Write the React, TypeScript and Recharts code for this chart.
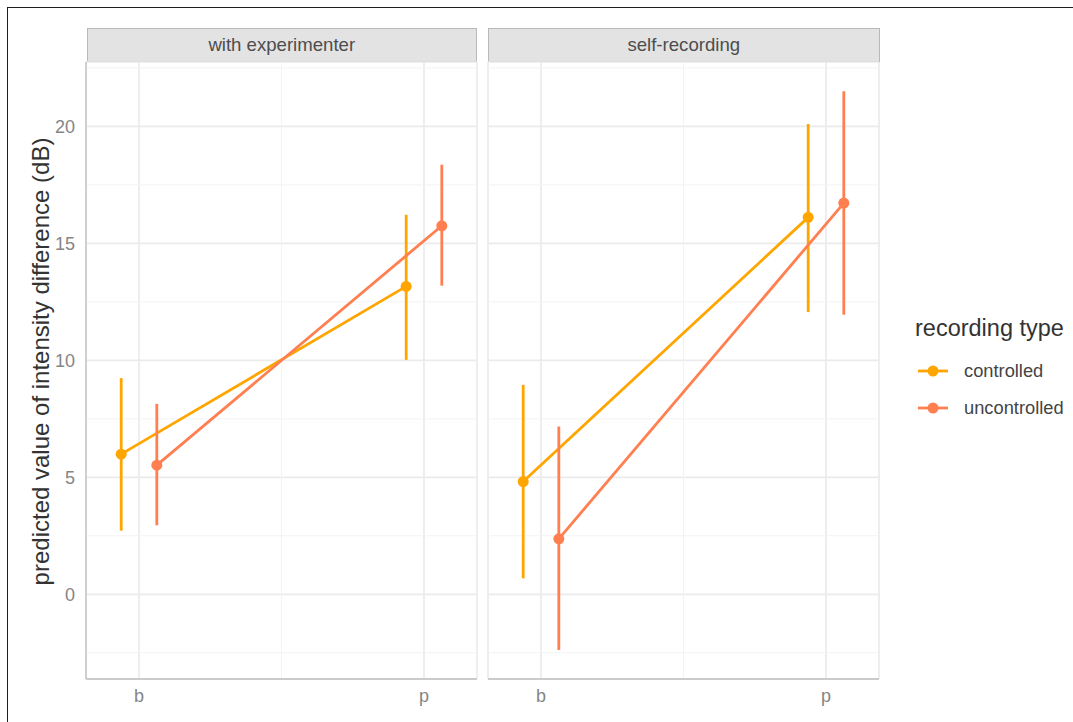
import {
  ComposedChart,
  Line,
  XAxis,
  YAxis,
  CartesianGrid,
  ErrorBar,
  ReferenceLine,
  Legend,
  Label,
} from "recharts";

const panels = ["with experimenter", "self-recording"];
const conditions = ["b", "p"];
const recordingTypes = ["controlled", "uncontrolled"];
const typeColors = ["#FFA500", "#FF7F50"];

// model estimates per panel, [b, p]
const controlledFit = [[5.99, 13.16], [4.82, 16.11]];
const controlledLow = [[2.72, 10.02], [0.68, 12.06]];
const controlledHigh = [[9.24, 16.22], [8.95, 20.1]];
const uncontrolledFit = [[5.52, 15.75], [2.37, 16.72]];
const uncontrolledLow = [[2.95, 13.19], [-2.38, 11.95]];
const uncontrolledHigh = [[8.14, 18.36], [7.17, 21.5]];

const yTicks = [0, 5, 10, 15, 20];
const yMinorTicks = [-2.5, 2.5, 7.5, 12.5, 17.5, 22.5];
const xTicks = [1, 2];
const xMinorTicks = [1.5];

const Y_DOMAIN: [number, number] = [-3.62, 22.75];
const X_DOMAIN: [number, number] = [0.814, 2.186];
const DODGE = 0.0625;
const LEGEND_WIDTH = 160;

const FONT = "'Liberation Sans', Arial, Helvetica, sans-serif";
const GRID_MAJOR = "#EBEBEB";
const GRID_MINOR = "#F3F3F3";
const AXIS_LINE = "#CBCBCB";
const TICK_COLOR = "#858585";

const fits = [controlledFit, uncontrolledFit];
const lows = [controlledLow, uncontrolledLow];
const highs = [controlledHigh, uncontrolledHigh];

// one row per condition, shifted sideways per recording type
function seriesRows(panel: number, type: number) {
  const offset = type === 0 ? -DODGE : DODGE;
  return conditions.map((_, j) => {
    const y = fits[type][panel][j];
    return {
      x: j + 1 + offset,
      y,
      err: [y - lows[type][panel][j], highs[type][panel][j] - y],
    };
  });
}

const YTitle = (props: any) => {
  const vb = props.viewBox || { x: 0, y: 0, width: 0, height: 0 };
  const cx = vb.x + 40;
  const cy = vb.y + vb.height / 2 - 9;
  return (
    <text
      x={cx}
      y={cy}
      transform={`rotate(-90 ${cx} ${cy})`}
      textAnchor="middle"
      dominantBaseline="central"
      fontSize={24}
      fill="#333333"
    >
      predicted value of intensity difference (dB)
    </text>
  );
};

const LegendBox = (props: any) => {
  const items = (props.payload || []).filter((p: any) => p.type !== "none");
  return (
    <div style={{ fontFamily: FONT }}>
      <div style={{ fontSize: 23.5, color: "#333333", lineHeight: "24px", marginBottom: 12 }}>
        recording type
      </div>
      {items.map((item: any) => (
        <div
          key={item.value}
          style={{ display: "flex", alignItems: "center", height: 37 }}
        >
          <svg width={30} height={14} style={{ marginLeft: 3 }}>
            <line x1={0} y1={7} x2={30} y2={7} stroke={item.color} strokeWidth={2.8} />
            <circle cx={15} cy={7} r={5.5} fill={item.color} />
          </svg>
          <span style={{ marginLeft: 16, fontSize: 18.3, color: "#444444" }}>
            {item.value}
          </span>
        </div>
      ))}
    </div>
  );
};

function Strip({ left, width, text }: { left: number; width: number; text: string }) {
  return (
    <div
      style={{
        position: "absolute",
        left,
        top: 28,
        width,
        height: 34,
        boxSizing: "border-box",
        background: "#E3E3E3",
        border: "1px solid #B9B9B9",
        color: "#4D4D4D",
        fontSize: 18.6,
        lineHeight: "32px",
        textAlign: "center",
      }}
    >
      {text}
    </div>
  );
}

function Panel({ index, first }: { index: number; first: boolean }) {
  const width = first ? 478 : 593;
  // the legend box takes its own width off the right margin
  const margin = first
    ? { top: 62, right: 1, bottom: 0, left: 0 }
    : { top: 62, right: 194 - LEGEND_WIDTH, bottom: 0, left: 8 };
  return (
    <ComposedChart width={width} height={722} margin={margin}>
      <CartesianGrid stroke={GRID_MAJOR} strokeWidth={1.7} />
      {yMinorTicks.map((v) => (
        <ReferenceLine key={`y${v}`} y={v} stroke={GRID_MINOR} strokeWidth={1} />
      ))}
      {xMinorTicks.map((v) => (
        <ReferenceLine key={`x${v}`} x={v} stroke={GRID_MINOR} strokeWidth={1} />
      ))}
      <XAxis
        type="number"
        dataKey="x"
        domain={X_DOMAIN}
        allowDataOverflow
        ticks={xTicks}
        tickFormatter={(v: number) => conditions[v - 1]}
        height={43}
        tickLine={false}
        tickMargin={4}
        axisLine={{ stroke: AXIS_LINE, strokeWidth: 1.8 }}
        tick={{ fontSize: 18, fill: TICK_COLOR }}
      />
      <YAxis
        type="number"
        domain={Y_DOMAIN}
        allowDataOverflow
        ticks={yTicks}
        hide={!first}
        width={86}
        tickLine={false}
        tickMargin={5}
        axisLine={{ stroke: AXIS_LINE, strokeWidth: 1.8 }}
        tick={{ fontSize: 18, fill: TICK_COLOR }}
      >
        {first && <Label content={YTitle} />}
      </YAxis>
      {recordingTypes.map((name, t) => (
        <Line
          key={name}
          name={name}
          data={seriesRows(index, t)}
          dataKey="y"
          type="linear"
          stroke={typeColors[t]}
          strokeWidth={2.8}
          dot={{ r: 5.5, fill: typeColors[t], stroke: typeColors[t], strokeWidth: 0 }}
          activeDot={false}
          isAnimationActive={false}
        >
          <ErrorBar
            dataKey="err"
            direction="y"
            width={0}
            stroke={typeColors[t]}
            strokeWidth={2.8}
            isAnimationActive={false}
          />
        </Line>
      ))}
      {!first && (
        <Legend
          layout="horizontal"
          verticalAlign="middle"
          align="right"
          content={LegendBox}
          wrapperStyle={{ left: 435, top: 316, width: LEGEND_WIDTH }}
        />
      )}
    </ComposedChart>
  );
}

export default function App() {
  return (
    <div
      style={{
        position: "absolute",
        left: 0,
        top: 0,
        width: 1073,
        height: 722,
        overflow: "hidden",
        background: "#ffffff",
        fontFamily: FONT,
      }}
    >
      <div
        style={{
          position: "absolute",
          left: 7,
          top: 7,
          width: 1100,
          height: 740,
          borderTop: "1.5px solid #1E1E1E",
          borderLeft: "1.5px solid #1E1E1E",
        }}
      />
      <Strip left={86.5} width={390.5} text={panels[0]} />
      <Strip left={488} width={391.5} text={panels[1]} />
      <div style={{ position: "absolute", left: 0, top: 0 }}>
        <Panel index={0} first />
      </div>
      <div style={{ position: "absolute", left: 480, top: 0 }}>
        <Panel index={1} first={false} />
      </div>
    </div>
  );
}
